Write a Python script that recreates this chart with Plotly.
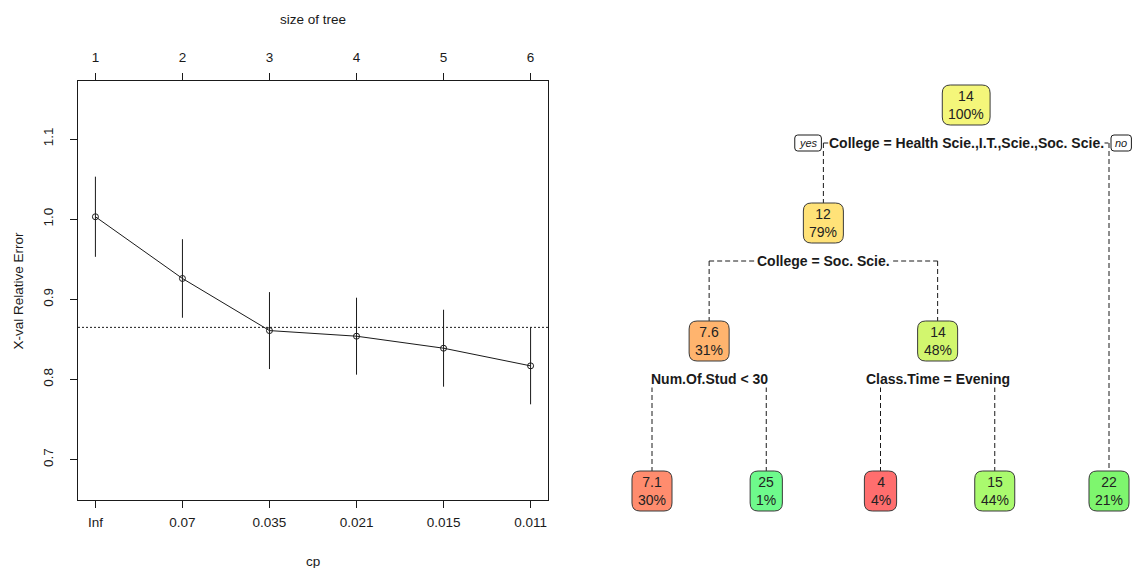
import plotly.graph_objects as go

# ---- cross-validated complexity table (plotcp) ----
tree_size = [1, 2, 3, 4, 5, 6]
cp_labels = ["Inf", "0.07", "0.035", "0.021", "0.015", "0.011"]
xerror = [1.003, 0.926, 0.861, 0.854, 0.839, 0.817]
xstd = [0.050, 0.049, 0.048, 0.048, 0.048, 0.048]

# ---- fitted regression tree (rpart numbering: children of n are 2n, 2n+1) ----
node_ids = [1, 2, 4, 8, 9, 5, 10, 11, 3]
node_values = ["14", "12", "7.6", "7.1", "25", "14", "4", "15", "22"]
node_shares = ["100%", "79%", "31%", "30%", "1%", "48%", "4%", "44%", "21%"]
node_fills = ["#F4F67A", "#FFE278", "#FFB46E", "#FF8C6E", "#6EFA8C",
              "#D2F66E", "#FF6E6E", "#AAFA6E", "#7EF66E"]
split_ids = [1, 2, 4, 5]
split_labels = ["College = Health Scie.,I.T.,Scie.,Soc. Scie.",
                "College = Soc. Scie.",
                "Num.Of.Stud < 30",
                "Class.Time = Evening"]

W, H = 1140, 568
FONT = "Liberation Sans, Arial, sans-serif"
INK = "#1a1a1a"

# ---------------- left panel geometry (pixels) ----------------
P_LEFT, P_RIGHT, P_TOP, P_BOTTOM = 78, 548, 81, 500
x_range = [0.8, 6.2]
lo = min(e - s for e, s in zip(xerror, xstd)) - 0.1
hi = max(e + s for e, s in zip(xerror, xstd)) + 0.1
pad = 0.04 * (hi - lo)
y_range = [lo - pad, hi + pad]
best = min(range(len(xerror)), key=lambda i: xerror[i])
threshold = xerror[best] + xstd[best]

fig = go.Figure()
fig.add_trace(go.Scatter(
    x=tree_size, y=xerror, mode="lines+markers",
    line=dict(color=INK, width=1),
    marker=dict(symbol="circle-open", size=6, color=INK, line=dict(width=1)),
    error_y=dict(type="data", array=xstd, width=0, thickness=1, color=INK),
    showlegend=False, hoverinfo="skip"))
# carrier for the top "size of tree" axis
fig.add_trace(go.Scatter(x=tree_size, y=xerror, xaxis="x3", mode="markers",
                         marker=dict(opacity=0), showlegend=False, hoverinfo="skip"))

axis_font = dict(family=FONT, size=13.5, color=INK)
fig.update_layout(
    width=W, height=H, margin=dict(l=0, r=0, t=0, b=0),
    paper_bgcolor="white", plot_bgcolor="white",
    xaxis=dict(domain=[P_LEFT / W, P_RIGHT / W], range=x_range,
               tickvals=tree_size, ticktext=cp_labels, ticks="outside",
               ticklen=7, tickcolor=INK, showline=True, linecolor=INK,
               linewidth=1, mirror=True, showgrid=False, zeroline=False,
               tickfont=axis_font, anchor="y", ticklabelstandoff=3),
    xaxis3=dict(overlaying="x", side="top", range=x_range,
                tickvals=tree_size, ticktext=[str(s) for s in tree_size],
                ticks="outside", ticklen=7, tickcolor=INK, showline=False,
                showgrid=False, zeroline=False, tickfont=axis_font, anchor="y",
                ticklabelstandoff=6),
    yaxis=dict(domain=[1 - P_BOTTOM / H, 1 - P_TOP / H], range=y_range,
               tickvals=[0.7, 0.8, 0.9, 1.0, 1.1],
               ticktext=["0.7", "0.8", "0.9", "1.0", "1.1"], tickangle=-90,
               ticks="outside", ticklen=7, tickcolor=INK, showline=True,
               linecolor=INK, linewidth=1, mirror=True, showgrid=False,
               zeroline=False, tickfont=axis_font, anchor="x",
               ticklabelstandoff=12),
    xaxis2=dict(domain=[570 / W, 1.0], range=[570, W], visible=False,
                anchor="y2", fixedrange=True),
    yaxis2=dict(domain=[0, 1], range=[H, 0], visible=False,
                anchor="x2", fixedrange=True),
)
fig.add_trace(go.Scatter(x=[600], y=[300], xaxis="x2", yaxis="y2", mode="markers",
                         marker=dict(opacity=0), showlegend=False, hoverinfo="skip"))

shapes = [dict(type="line", xref="x domain", yref="y", x0=0, x1=1,
               y0=threshold, y1=threshold, line=dict(color=INK, width=1, dash="2px,2px"))]
annotations = [
    dict(text="size of tree", x=(P_LEFT + P_RIGHT) / 2 / W, y=1 - 20 / H,
         xref="paper", yref="paper", showarrow=False, font=axis_font,
         xanchor="center", yanchor="middle"),
    dict(text="cp", x=(P_LEFT + P_RIGHT) / 2 / W, y=1 - 561 / H,
         xref="paper", yref="paper", showarrow=False, font=axis_font,
         xanchor="center", yanchor="middle"),
    dict(text="X-val Relative Error", x=18 / W, y=1 - (P_TOP + P_BOTTOM) / 2 / H,
         xref="paper", yref="paper", showarrow=False, font=axis_font,
         textangle=-90, xanchor="center", yanchor="middle"),
]

# ---------------- tree layout (pixels on x2/y2) ----------------
LEAF_X0, LEAF_DX = 652, 114.25
LEVEL_Y = [105, 223, 341]
LEAF_Y = 491
BOX_H, RADIUS, LABEL_DROP = 40, 8, 38
NODE_PT = 14

present = set(node_ids)
info = {n: (v, s, c) for n, v, s, c in zip(node_ids, node_values, node_shares, node_fills)}
split_of = dict(zip(split_ids, split_labels))


def is_leaf(n):
    return 2 * n not in present


leaf_order = []


def walk(n):
    if is_leaf(n):
        leaf_order.append(n)
    else:
        walk(2 * n)
        walk(2 * n + 1)


walk(1)
pos = {}


def place(n, depth):
    if is_leaf(n):
        pos[n] = (LEAF_X0 + leaf_order.index(n) * LEAF_DX, LEAF_Y)
    else:
        place(2 * n, depth + 1)
        place(2 * n + 1, depth + 1)
        pos[n] = ((pos[2 * n][0] + pos[2 * n + 1][0]) / 2, LEVEL_Y[depth])


place(1, 0)

# Arial advance widths in em
CHAR_EM = {".": 0.278, "%": 0.889}


def text_w(t):
    return sum(CHAR_EM.get(ch, 0.556) for ch in t) * NODE_PT


def rounded(x0, y0, x1, y1, r):
    return (f"M{x0 + r},{y0} L{x1 - r},{y0} Q{x1},{y0} {x1},{y0 + r} "
            f"L{x1},{y1 - r} Q{x1},{y1} {x1 - r},{y1} L{x0 + r},{y1} "
            f"Q{x0},{y1} {x0},{y1 - r} L{x0},{y0 + r} Q{x0},{y0} {x0 + r},{y0} Z")


dash = dict(color=INK, width=1, dash="5px,3px")
for n in split_ids:
    px, py = pos[n]
    ly = py + LABEL_DROP
    lx, rx = pos[2 * n][0], pos[2 * n + 1][0]
    shapes.append(dict(type="line", xref="x2", yref="y2", x0=lx, x1=rx, y0=ly, y1=ly, line=dash))
    for c in (2 * n, 2 * n + 1):
        cx, cy = pos[c]
        shapes.append(dict(type="line", xref="x2", yref="y2", x0=cx, x1=cx,
                           y0=ly, y1=cy - BOX_H / 2, line=dash))
    annotations.append(dict(
        text="<b>" + split_of[n].replace("<", "&lt;") + "</b>", x=px, y=ly,
        xref="x2", yref="y2", showarrow=False, bgcolor="white", borderpad=0,
        font=dict(family=FONT, size=14, color=INK), xanchor="center", yanchor="middle"))
    if n == 1:
        for word, anchor, xx in (("yes", "right", lx - 2), ("no", "left", rx + 2)):
            tw = len(word) * 6.2 + 8
            x0, x1 = (xx - tw, xx) if anchor == "right" else (xx, xx + tw)
            shapes.append(dict(type="path", xref="x2", yref="y2",
                               path=rounded(x0, ly - 8, x1, ly + 8, 3),
                               fillcolor="white", line=dict(color=INK, width=1)))
            annotations.append(dict(text=f"<i>{word}</i>", x=(x0 + x1) / 2, y=ly,
                                    xref="x2", yref="y2", showarrow=False,
                                    font=dict(family=FONT, size=11, color=INK),
                                    xanchor="center", yanchor="middle"))

for n in node_ids:
    v, s, c = info[n]
    cx, cy = pos[n]
    bw = max(text_w(v), text_w(s)) + 12
    shapes.append(dict(type="path", xref="x2", yref="y2",
                       path=rounded(cx - bw / 2, cy - BOX_H / 2, cx + bw / 2, cy + BOX_H / 2, RADIUS),
                       fillcolor=c, line=dict(color="#3a3a3a", width=1)))
    annotations.append(dict(text=f"{v}<br>{s}", x=cx, y=cy, xref="x2", yref="y2",
                            showarrow=False, font=dict(family=FONT, size=NODE_PT, color="#222222"),
                            xanchor="center", yanchor="middle"))

fig.update_layout(shapes=shapes, annotations=annotations)
fig.write_html("out.html")
